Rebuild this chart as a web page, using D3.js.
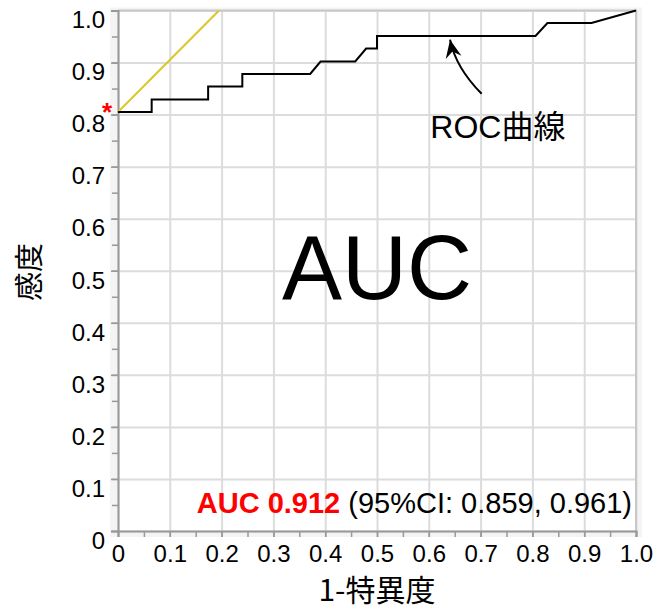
<!DOCTYPE html>
<meta charset="utf-8">
<style>
  body { margin: 0; background: #fff; }
  text { font-family: "Liberation Sans", Arial, "Noto Sans CJK JP", sans-serif; }
</style>
<body>
<script src="https://cdn.jsdelivr.net/npm/d3@7"></script>
<script>

// ROC curve points (1 - specificity, sensitivity)
var fpr = [0, 0.065, 0.065, 0.174, 0.174, 0.24, 0.24, 0.371, 0.391, 0.458, 0.479, 0.5, 0.5, 0.806, 0.829, 0.914, 1.0];
var tpr = [0.805, 0.805, 0.829, 0.829, 0.854, 0.854, 0.878, 0.878, 0.902, 0.902, 0.927, 0.927, 0.951, 0.951, 0.976, 0.976, 1.0];

// tangent line (slope 1) through the start point
var tangentX = [0, 0.195];
var tangentY = [0.805, 1.0];

var majorTicks = d3.range(0, 11).map(d => d / 10);
var minorTicks = d3.range(0, 21).map(d => d / 20);

var aucText = "AUC 0.912";
var ciText = "(95%CI: 0.859, 0.961)";

var width = 667,
    height = 610;
var margin = {left: 118, top: 10.5, right: 31, bottom: 79};
var w = width - margin.left - margin.right,
    h = height - margin.top - margin.bottom;

var svg = d3.select("body").append("svg")
    .attr("width", width)
    .attr("height", height);

var x = d3.scaleLinear().domain([0, 1]).range([0, w]);
var y = d3.scaleLinear().domain([0, 1]).range([h, 0]);

var g = svg.append("g")
    .attr("transform", "translate(" + margin.left + "," + margin.top + ")");

// light frame behind plot
g.append("rect")
    .attr("x", -8).attr("y", -3)
    .attr("width", w + 14).attr("height", h + 9)
    .attr("fill", "#f4f4f4");
g.append("rect")
    .attr("width", w).attr("height", h)
    .attr("fill", "#fff");

// grid
g.append("g")
    .call(d3.axisLeft(y).tickValues(majorTicks).tickSize(-w).tickFormat(""))
    .call(s => s.select(".domain").remove())
    .call(s => s.selectAll("line").attr("stroke", "#dcdcdc").attr("stroke-width", 2));
g.append("g")
    .attr("transform", "translate(0," + h + ")")
    .call(d3.axisBottom(x).tickValues(majorTicks).tickSize(-h).tickFormat(""))
    .call(s => s.select(".domain").remove())
    .call(s => s.selectAll("line").attr("stroke", "#dcdcdc").attr("stroke-width", 2));

// border top/right
g.append("path")
    .attr("d", "M0,0H" + w + "V" + h)
    .attr("fill", "none")
    .attr("stroke", "#c8c8c8")
    .attr("stroke-width", 2);

// minor ticks
g.append("g")
    .call(d3.axisLeft(y).tickValues(minorTicks).tickSize(6).tickFormat(""))
    .call(s => s.select(".domain").remove())
    .call(s => s.selectAll("line").attr("stroke", "#999").attr("stroke-width", 1.5));
g.append("g")
    .attr("transform", "translate(0," + h + ")")
    .call(d3.axisBottom(x).tickValues(minorTicks).tickSize(6).tickFormat(""))
    .call(s => s.select(".domain").remove())
    .call(s => s.selectAll("line").attr("stroke", "#999").attr("stroke-width", 1.5));

var fmt = d => d === 0 ? "0" : d3.format(".1f")(d);

// y axis
g.append("g")
    .call(d3.axisLeft(y).tickValues(majorTicks).tickSize(7).tickPadding(6).tickFormat(fmt))
    .call(s => s.select(".domain").attr("stroke", "#999").attr("stroke-width", 2))
    .call(s => s.selectAll("line").attr("stroke", "#999").attr("stroke-width", 1.5))
    .call(s => s.selectAll("text")
        .attr("dy", "0.72em")
        .attr("fill", "#000")
        .style("font-size", "24px")
        .style("font-family", "Liberation Sans, Arial, sans-serif"));

// x axis
g.append("g")
    .attr("transform", "translate(0," + h + ")")
    .call(d3.axisBottom(x).tickValues(majorTicks).tickSize(6).tickPadding(8).tickFormat(fmt))
    .call(s => s.select(".domain").attr("stroke", "#999").attr("stroke-width", 2))
    .call(s => s.selectAll("line").attr("stroke", "#999").attr("stroke-width", 1.5))
    .call(s => s.selectAll("text")
        .attr("fill", "#000")
        .style("font-size", "24px")
        .style("font-family", "Liberation Sans, Arial, sans-serif"));

// tangent line
g.append("line")
    .attr("x1", x(tangentX[0])).attr("y1", y(tangentY[0]))
    .attr("x2", x(tangentX[1])).attr("y2", y(tangentY[1]))
    .attr("stroke", "#d8c82a")
    .attr("stroke-width", 2);

// ROC curve
var line = d3.line()
    .x((d, i) => x(fpr[i]))
    .y((d, i) => y(tpr[i]));
g.append("path")
    .datum(fpr)
    .attr("d", line)
    .attr("fill", "none")
    .attr("stroke", "#000")
    .attr("stroke-width", 2);

// red asterisk
g.append("text")
    .attr("x", x(0) - 11)
    .attr("y", y(tpr[0]) + 9)
    .attr("text-anchor", "middle")
    .attr("fill", "#f00")
    .style("font-size", "26px")
    .style("font-weight", "bold")
    .text("*");

// arrow to curve
svg.append("defs").append("marker")
    .attr("id", "head")
    .attr("viewBox", "-18 -9 20 18")
    .attr("markerWidth", 20)
    .attr("markerHeight", 18)
    .attr("markerUnits", "userSpaceOnUse")
    .attr("refX", 0).attr("refY", 0)
    .attr("orient", "auto")
    .append("path")
    .attr("d", "M0,0L-18,-8L-12,0L-18,8Z")
    .attr("fill", "#000");

var arrowFrom = [0.702, 0.84], arrowCtrl = [0.652, 0.89], arrowTo = [0.641, 0.944];
g.append("path")
    .attr("d", "M" + x(arrowFrom[0]) + "," + y(arrowFrom[1]) +
               "Q" + x(arrowCtrl[0]) + "," + y(arrowCtrl[1]) +
               " " + x(arrowTo[0]) + "," + y(arrowTo[1]))
    .attr("fill", "none")
    .attr("stroke", "#000")
    .attr("stroke-width", 2)
    .attr("marker-end", "url(#head)");

g.append("text")
    .attr("x", x(0.603))
    .attr("y", y(0.755))
    .style("font-size", "32px")
    .style("font-family", "Liberation Sans, Arial, 'Noto Sans CJK JP', sans-serif")
    .text("ROC曲線");

// big AUC label
g.append("text")
    .attr("x", x(0.5))
    .attr("y", y(0.445))
    .attr("text-anchor", "middle")
    .style("font-size", "90px")
    .text("AUC");

// AUC value
var t = g.append("text")
    .attr("x", w - 4)
    .attr("y", y(0.035))
    .attr("text-anchor", "end")
    .style("font-size", "29px");
t.append("tspan")
    .attr("fill", "#f00")
    .style("font-weight", "bold")
    .text(aucText + " ");
t.append("tspan")
    .attr("fill", "#000")
    .text(ciText);

// axis titles
svg.append("text")
    .attr("x", margin.left + w / 2)
    .attr("y", 601)
    .attr("text-anchor", "middle")
    .style("font-size", "30px")
    .style("font-family", "'Noto Sans CJK JP', sans-serif")
    .text("1-特異度");

svg.append("text")
    .attr("transform", "translate(40,272) rotate(-90)")
    .attr("text-anchor", "middle")
    .style("font-size", "29px")
    .style("font-family", "'Noto Sans CJK JP', sans-serif")
    .text("感度");

</script>
